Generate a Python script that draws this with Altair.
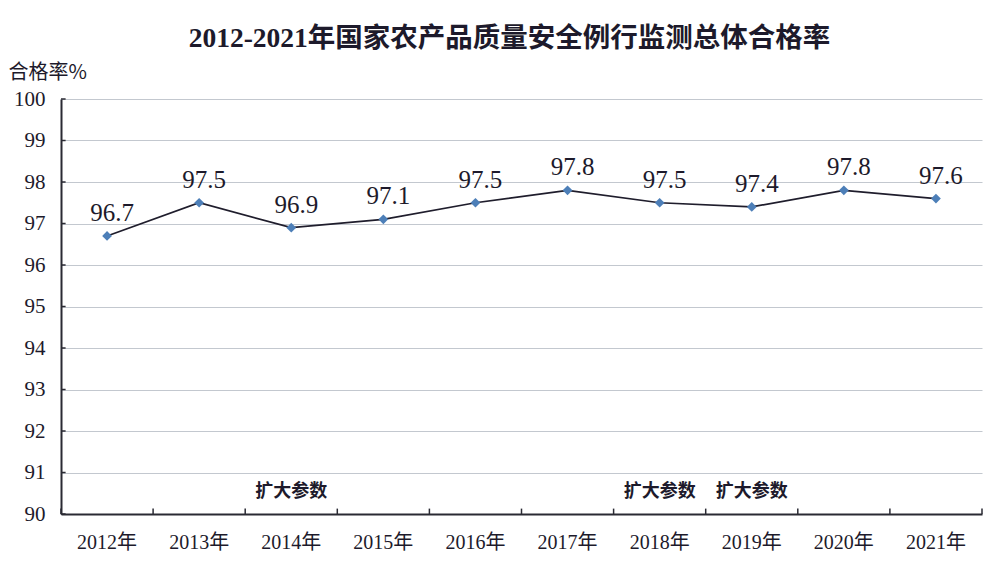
import altair as alt
import pandas as pd

years = ["2012年", "2013年", "2014年", "2015年", "2016年",
         "2017年", "2018年", "2019年", "2020年", "2021年"]
rates = [96.7, 97.5, 96.9, 97.1, 97.5, 97.8, 97.5, 97.4, 97.8, 97.6]
note_years = ["2014年", "2018年", "2019年"]
note_texts = ["扩大参数", "扩大参数", "扩大参数"]
note_level = 90.52
y_ticks = [90, 91, 92, 93, 94, 95, 96, 97, 98, 99, 100]
tick_len = 0.13

df = pd.DataFrame({"year": years, "rate": rates})
notes = pd.DataFrame({"year": note_years, "text": note_texts,
                      "y": [note_level] * len(note_years)})
edges = pd.DataFrame({"year": years, "y": [90] * len(years),
                      "y2": [90 + tick_len] * len(years)})
last_edge = edges.tail(1)
yt = pd.DataFrame({"year": [years[0]] * len(y_ticks), "y": y_ticks})

serif = "Liberation Serif, Noto Sans CJK SC"
num_font = "Liberation Serif, Times New Roman, Noto Sans CJK SC"
cjk = "Noto Sans CJK SC"
ink = "#1d1a2b"
axis_ink = "#2a2a33"

xs = alt.Scale(type="band", domain=years, paddingInner=0, paddingOuter=0)
ys = alt.Scale(domain=[90, 100], nice=False, zero=False)

x_enc = alt.X("year:N", scale=xs, sort=years,
              axis=alt.Axis(title=None, labelAngle=0, labelFont=serif,
                            labelFontSize=20, labelColor=ink, labelPadding=18,
                            ticks=False, domainColor=axis_ink, domainWidth=2,
                            grid=False))
y_enc = alt.Y("rate:Q", scale=ys,
              axis=alt.Axis(title="合格率%", values=y_ticks, labelFont=num_font,
                            labelFontSize=21, labelColor=ink, labelPadding=16,
                            ticks=False, domainColor=axis_ink, domainWidth=2,
                            gridColor="#c3c8cf", gridWidth=1,
                            titleAngle=0, titleAlign="left", titleBaseline="bottom",
                            titleX=-53, titleY=-17, titleFont=cjk,
                            titleFontSize=20, titleFontWeight="normal",
                            titleColor=ink))

base = alt.Chart(df)
line = base.mark_line(color="#1f1d2c", strokeWidth=1.7).encode(x=x_enc, y=y_enc)
pts = base.mark_point(shape="diamond", filled=True, size=95, color="#4d7fb8",
                      opacity=1).encode(x=alt.X("year:N", scale=xs, sort=years),
                                        y=alt.Y("rate:Q", scale=ys))
labels = base.mark_text(font=num_font, fontSize=25, color=ink, dy=-23, dx=5).encode(
    x=alt.X("year:N", scale=xs, sort=years),
    y=alt.Y("rate:Q", scale=ys),
    text=alt.Text("rate:Q", format=".1f"))

ticks = alt.Chart(edges).mark_rule(color=axis_ink, strokeWidth=1.5).encode(
    x=alt.X("year:N", scale=xs, sort=years, bandPosition=0),
    y=alt.Y("y:Q", scale=ys), y2="y2:Q")
ticks_end = alt.Chart(last_edge).mark_rule(color=axis_ink, strokeWidth=1.5).encode(
    x=alt.X("year:N", scale=xs, sort=years, bandPosition=1),
    y=alt.Y("y:Q", scale=ys), y2="y2:Q")
yticks = alt.Chart(yt).mark_rule(color=axis_ink, strokeWidth=1.5).encode(
    x=alt.X("year:N", scale=xs, sort=years, bandPosition=0),
    x2=alt.X2("year:N", bandPosition=0.05),
    y=alt.Y("y:Q", scale=ys))

note = alt.Chart(notes).mark_text(font=cjk, fontSize=18, fontWeight="bold",
                                  color=ink).encode(
    x=alt.X("year:N", scale=xs, sort=years),
    y=alt.Y("y:Q", scale=ys),
    text="text:N")

chart = alt.layer(line, pts, labels, ticks, ticks_end, yticks, note).properties(
    width=921, height=415,
    autosize=alt.AutoSizeParams(type="none"),
    padding={"left": 61, "top": 99, "right": 18, "bottom": 58},
    background="white",
    title=alt.TitleParams("2012-2021年国家农产品质量安全例行监测总体合格率",
                          font="Liberation Serif, Noto Sans CJK SC",
                          fontSize=27.5, fontWeight="bold", color=ink,
                          anchor="middle", dx=-12, offset=10),
).configure_view(stroke=None)

chart.save("out.html", embed_options={"renderer": "svg", "actions": False})
